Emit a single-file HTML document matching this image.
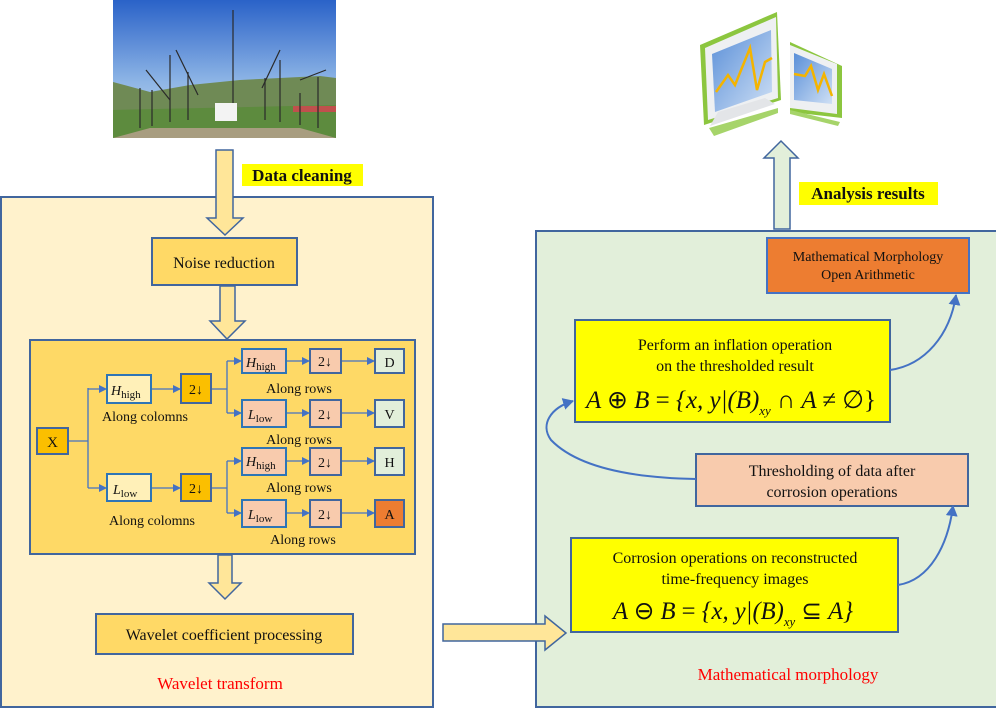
<!DOCTYPE html>
<html><head><meta charset="utf-8"><style>
html,body{margin:0;padding:0;background:#fff}
svg{display:block}
text{font-family:"Liberation Serif",serif;fill:#111}
</style></head><body>
<svg width="996" height="709" viewBox="0 0 996 709" xmlns="http://www.w3.org/2000/svg">
<defs>
<linearGradient id="sky" x1="0" y1="0" x2="0" y2="1"><stop offset="0" stop-color="#2a62c8"/><stop offset="0.6" stop-color="#8fb6e6"/><stop offset="1" stop-color="#c9dbef"/></linearGradient>
<linearGradient id="scr" x1="0" y1="0" x2="1" y2="1"><stop offset="0" stop-color="#5a8fd8"/><stop offset="1" stop-color="#cfe0f5"/></linearGradient>
<marker id="ar" markerWidth="8" markerHeight="8" refX="7" refY="4" orient="auto" markerUnits="userSpaceOnUse"><path d="M0,0 L8,4 L0,8 z" fill="#4472c4"/></marker>
<marker id="ar2" markerWidth="12" markerHeight="12" refX="10" refY="6" orient="auto" markerUnits="userSpaceOnUse"><path d="M0,0 L11,6 L0,12 z" fill="#4472c4"/></marker>
</defs>

<!-- photo -->
<rect x="113" y="0" width="223" height="138" fill="url(#sky)"/>
<path d="M113,82 L150,92 L190,85 L240,80 L280,78 L320,76 L336,78 L336,138 L113,138 z" fill="#6f8a55"/>
<path d="M113,110 L336,105 L336,138 L113,138 z" fill="#5d8b3e"/>
<path d="M150,128 L300,128 L336,138 L113,138 z" fill="#a89d80"/>
<rect x="215" y="103" width="22" height="18" fill="#f3f3f3"/>
<rect x="293" y="106" width="43" height="6" fill="#c0504d"/>
<g stroke="#2a2a2a" stroke-width="1.2">
<line x1="233" y1="10" x2="233" y2="103"/><line x1="140" y1="88" x2="140" y2="128"/><line x1="152" y1="90" x2="152" y2="126"/><line x1="170" y1="55" x2="170" y2="122"/><line x1="188" y1="72" x2="188" y2="120"/>
<line x1="265" y1="78" x2="265" y2="120"/><line x1="280" y1="60" x2="280" y2="122"/><line x1="300" y1="93" x2="300" y2="125"/><line x1="318" y1="77" x2="318" y2="128"/>
<line x1="146" y1="70" x2="170" y2="100"/><line x1="176" y1="50" x2="198" y2="95"/><line x1="280" y1="50" x2="262" y2="88"/><line x1="326" y1="70" x2="300" y2="80"/>
</g>

<rect x="242" y="164" width="121" height="22" fill="#ffff00"/>
<text x="302" y="181" text-anchor="middle" font-size="17" font-weight="bold">Data cleaning</text>

<!-- left panel -->
<rect x="1" y="197" width="432" height="510" fill="#fff2cc" stroke="#41669e" stroke-width="2"/>
<path d="M216,150 L233,150 L233,218 L243,218 L225,235 L207,218 L216,218 z" fill="#ffe699" stroke="#41669e" stroke-width="1.5"/>
<rect x="152" y="238" width="145" height="47" fill="#ffd966" stroke="#41669e" stroke-width="2"/>
<text x="224" y="268" text-anchor="middle" font-size="16">Noise reduction</text>
<path d="M220,286 L235,286 L235,321 L245,321 L227,339 L210,321 L220,321 z" fill="#ffe699" stroke="#41669e" stroke-width="1.5"/>

<!-- inner box -->
<rect x="30" y="340" width="385" height="214" fill="#fed966" stroke="#41669e" stroke-width="2"/>
<g stroke="#4472c4" stroke-width="1.3" fill="none">
<path d="M68,441 L88,441 M88,388 L88,488 M88,389 L106,389" marker-end="url(#ar)"/>
<path d="M88,488 L106,488" marker-end="url(#ar)"/>
<path d="M151,389 L180,389" marker-end="url(#ar)"/>
<path d="M151,488 L180,488" marker-end="url(#ar)"/>
<path d="M211,389 L227,389 M227,361 L227,413 M227,361 L241,361" marker-end="url(#ar)"/>
<path d="M227,413 L241,413" marker-end="url(#ar)"/>
<path d="M211,488 L227,488 M227,461 L227,513 M227,461 L241,461" marker-end="url(#ar)"/>
<path d="M227,513 L241,513" marker-end="url(#ar)"/>
<path d="M286,361 L309,361" marker-end="url(#ar)"/><path d="M286,413 L309,413" marker-end="url(#ar)"/>
<path d="M286,461 L309,461" marker-end="url(#ar)"/><path d="M286,513 L309,513" marker-end="url(#ar)"/>
<path d="M341,361 L374,361" marker-end="url(#ar)"/><path d="M341,413 L374,413" marker-end="url(#ar)"/>
<path d="M341,461 L374,461" marker-end="url(#ar)"/><path d="M341,513 L374,513" marker-end="url(#ar)"/>
</g>
<rect x="37" y="428" width="31" height="26" fill="#fbbf00" stroke="#41669e" stroke-width="2"/>
<text x="52.5" y="447" text-anchor="middle" font-size="15">X</text>
<g stroke="#2e75b6" stroke-width="2">
<rect x="107" y="375" width="44" height="28" fill="#fff0b8"/>
<rect x="107" y="474" width="44" height="27" fill="#fff0b8"/>
<rect x="242" y="349" width="44" height="24" fill="#f8cbad"/>
<rect x="242" y="400" width="44" height="27" fill="#f8cbad"/>
<rect x="242" y="448" width="44" height="27" fill="#f8cbad"/>
<rect x="242" y="500" width="44" height="27" fill="#f8cbad"/>
</g>
<g stroke="#41669e" stroke-width="2">
<rect x="181" y="374" width="30" height="29" fill="#fbbf00"/>
<rect x="181" y="474" width="30" height="27" fill="#fbbf00"/>
<rect x="310" y="349" width="31" height="24" fill="#f8cbad"/>
<rect x="310" y="400" width="31" height="27" fill="#f8cbad"/>
<rect x="310" y="448" width="31" height="27" fill="#f8cbad"/>
<rect x="310" y="500" width="31" height="27" fill="#f8cbad"/>
<rect x="375" y="349" width="29" height="24" fill="#e2efda"/>
<rect x="375" y="400" width="29" height="27" fill="#e2efda"/>
<rect x="375" y="448" width="29" height="27" fill="#e2efda"/>
<rect x="375" y="500" width="29" height="27" fill="#ed7d31"/>
</g>
<g font-size="14">
<text x="111" y="395"><tspan font-style="italic">H</tspan><tspan font-size="11" dy="3">high</tspan></text>
<text x="113" y="494"><tspan font-style="italic">L</tspan><tspan font-size="11" dy="3">low</tspan></text>
<text x="246" y="367"><tspan font-style="italic">H</tspan><tspan font-size="11" dy="3">high</tspan></text>
<text x="248" y="419"><tspan font-style="italic">L</tspan><tspan font-size="11" dy="3">low</tspan></text>
<text x="246" y="466"><tspan font-style="italic">H</tspan><tspan font-size="11" dy="3">high</tspan></text>
<text x="248" y="519"><tspan font-style="italic">L</tspan><tspan font-size="11" dy="3">low</tspan></text>
<text x="189" y="394">2↓</text><text x="189" y="493">2↓</text>
<text x="318" y="366">2↓</text><text x="318" y="419">2↓</text><text x="318" y="467">2↓</text><text x="318" y="519">2↓</text>
<text x="389.5" y="367" text-anchor="middle">D</text><text x="389.5" y="419" text-anchor="middle">V</text>
<text x="389.5" y="467" text-anchor="middle">H</text><text x="389.5" y="519" text-anchor="middle">A</text>
<text x="145" y="421" text-anchor="middle">Along colomns</text>
<text x="152" y="525" text-anchor="middle">Along colomns</text>
<text x="299" y="393" text-anchor="middle">Along rows</text>
<text x="299" y="444" text-anchor="middle">Along rows</text>
<text x="299" y="492" text-anchor="middle">Along rows</text>
<text x="303" y="544" text-anchor="middle">Along rows</text>
</g>
<path d="M218,555 L232,555 L232,583 L241,583 L225,599 L209,583 L218,583 z" fill="#ffe699" stroke="#41669e" stroke-width="1.5"/>
<rect x="96" y="614" width="257" height="40" fill="#ffd966" stroke="#41669e" stroke-width="2"/>
<text x="224" y="640" text-anchor="middle" font-size="16">Wavelet coefficient processing</text>
<text x="220" y="689" text-anchor="middle" font-size="17" style="fill:#ff0000">Wavelet transform</text>

<!-- monitors -->
<g>
<path d="M700,45 L777,12 L781,100 L704,125 z" fill="#8cc63f"/>
<path d="M705,48 L776,17 L778,98 L708,120 z" fill="#eef0f2"/>
<path d="M712,54 L771,30 L772,92 L715,112 z" fill="url(#scr)"/>
<polyline points="716,92 728,75 735,85 750,48 757,90 765,62 772,58" fill="none" stroke="#f4b400" stroke-width="2.5"/>
<path d="M718,112 L765,98 L775,104 L710,126 z" fill="#e3e5e8"/>
<path d="M709,128 L778,108 L778,113 L714,136 z" fill="#a6d46a"/>
<path d="M790,42 L842,66 L842,118 L790,112 z" fill="#8cc63f"/>
<path d="M790,45 L837,64 L837,114 L790,108 z" fill="#eef0f2"/>
<path d="M794,53 L832,69 L832,104 L794,100 z" fill="url(#scr)"/>
<polyline points="794,74 805,76 811,66 818,90 824,74 832,96" fill="none" stroke="#f4b400" stroke-width="2.5"/>
<path d="M790,110 L840,122 L838,126 L790,114 z" fill="#a6d46a"/>
</g>

<!-- right panel -->
<rect x="536" y="231" width="462" height="476" fill="#e2efda" stroke="#41669e" stroke-width="2"/>
<path d="M774,229 L774,158 L764,158 L781,141 L798,158 L790,158 L790,229 z" fill="#e2efda" stroke="#41669e" stroke-width="1.5"/>
<rect x="799" y="182" width="139" height="23" fill="#ffff00"/>
<text x="868" y="199" text-anchor="middle" font-size="17" font-weight="bold">Analysis results</text>

<!-- right arrow -->
<path d="M443,624 L545,624 L545,616 L566,633 L545,650 L545,641 L443,641 z" fill="#ffe699" stroke="#41669e" stroke-width="1.5"/>

<rect x="767" y="238" width="202" height="55" fill="#ed7d31" stroke="#4472c4" stroke-width="2"/>
<text x="868" y="261" text-anchor="middle" font-size="14">Mathematical Morphology</text>
<text x="868" y="279" text-anchor="middle" font-size="14">Open Arithmetic</text>

<rect x="575" y="320" width="315" height="102" fill="#ffff00" stroke="#41669e" stroke-width="2"/>
<text x="735" y="350" text-anchor="middle" font-size="16">Perform an inflation operation</text>
<text x="735" y="371" text-anchor="middle" font-size="16">on the thresholded result</text>
<text x="586" y="408" font-size="25" font-style="italic" textLength="290" lengthAdjust="spacingAndGlyphs">A <tspan font-style="normal">⊕</tspan> B <tspan font-style="normal">=</tspan> {x, y|(B)<tspan font-size="13" dy="7">xy</tspan><tspan dy="-7" font-style="normal"> ∩ </tspan>A <tspan font-style="normal">≠ ∅}</tspan></text>

<rect x="696" y="454" width="272" height="52" fill="#f8cbad" stroke="#41669e" stroke-width="2"/>
<text x="832" y="476" text-anchor="middle" font-size="16">Thresholding of data after</text>
<text x="832" y="497" text-anchor="middle" font-size="16">corrosion operations</text>

<rect x="571" y="538" width="327" height="94" fill="#ffff00" stroke="#41669e" stroke-width="2"/>
<text x="735" y="563" text-anchor="middle" font-size="16">Corrosion operations on reconstructed</text>
<text x="735" y="584" text-anchor="middle" font-size="16">time-frequency images</text>
<text x="613" y="619" font-size="25" font-style="italic" textLength="240" lengthAdjust="spacingAndGlyphs">A <tspan font-style="normal">⊖</tspan> B <tspan font-style="normal">=</tspan> {x, y|(B)<tspan font-size="13" dy="7">xy</tspan><tspan dy="-7" font-style="normal"> ⊆ </tspan>A}</text>

<g stroke="#4472c4" stroke-width="2" fill="none">
<path d="M898,585 C930,580 948,545 953,506" marker-end="url(#ar2)"/>
<path d="M696,479 C640,478 580,470 551,440 C540,425 550,408 573,401" marker-end="url(#ar2)"/>
<path d="M890,370 C925,365 950,335 956,295" marker-end="url(#ar2)"/>
</g>
<text x="788" y="680" text-anchor="middle" font-size="17" style="fill:#ff0000">Mathematical morphology</text>
</svg>
</body></html>
